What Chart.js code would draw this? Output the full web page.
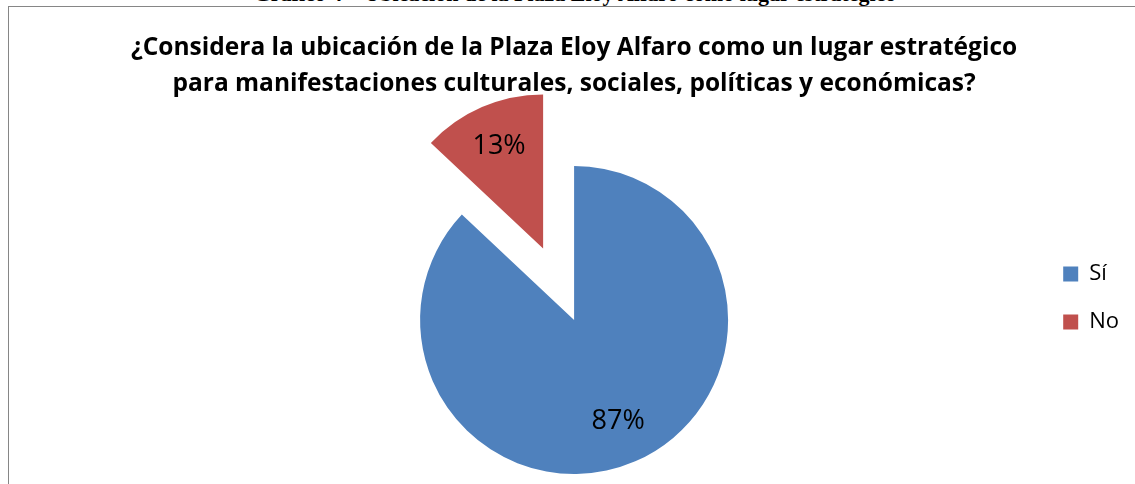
<!DOCTYPE html>
<html lang="es">
<head>
    <meta charset="UTF-8">
    <title>Plaza Eloy Alfaro</title>
    <script src="https://cdn.jsdelivr.net/npm/chart.js"></script>
    <style>
        body { margin: 0; width: 1135px; height: 484px; overflow: hidden; background: #fff; position: relative; }
        #caption {
            position: absolute; left: 0; width: 1150px; top: -17px;
            text-align: center; font: bold 22px/22px "Liberation Serif", serif; color: #000;
        }
        #frame {
            position: absolute; left: 8px; top: 6px; width: 1200px; height: 600px;
            border: 1px solid #868686;
        }
        #chartBox { position: absolute; left: 0; top: 0; width: 1126px; height: 521px; }
    </style>
</head>
<body>
    <div id="caption">Gráfico 4 – Ubicación de la Plaza Eloy Alfaro como lugar estratégico</div>
    <div id="frame">
        <div id="chartBox"><canvas id="pieChart"></canvas></div>
    </div>
    <script>
        // data
        const categories = ['Sí', 'No'];
        const percentages = [87, 13];
        const sliceColors = ['#4F81BD', '#C0504D'];
        const titleLines = [
            '¿Considera la ubicación de la Plaza Eloy Alfaro como un lugar estratégico',
            'para manifestaciones culturales, sociales, políticas y económicas?'
        ];

        // how far each slice is pulled out of the pie (px)
        const explode = [0, 78];

        // pull slices out along their middle angle, keeping their radius
        const explodePlugin = {
            id: 'explode',
            afterDatasetUpdate(chart, args) {
                args.meta.data.forEach((arc, i) => {
                    const d = explode[i];
                    if (!d) return;
                    const mid = (arc.startAngle + arc.endAngle) / 2;
                    arc.x += Math.cos(mid) * d;
                    arc.y += Math.sin(mid) * d;
                });
            }
        };

        // percentage labels inside each slice
        const pctLabels = {
            id: 'pctLabels',
            afterDatasetsDraw(chart) {
                const ctx = chart.ctx;
                const meta = chart.getDatasetMeta(0);
                ctx.save();
                ctx.font = '27px "Open Sans"';
                ctx.fillStyle = '#000';
                ctx.textAlign = 'center';
                ctx.textBaseline = 'middle';
                meta.data.forEach((arc, i) => {
                    const mid = (arc.startAngle + arc.endAngle) / 2;
                    const r = arc.outerRadius * 0.72;
                    ctx.fillText(percentages[i] + '%', arc.x + Math.cos(mid) * r, arc.y + Math.sin(mid) * r);
                });
                ctx.restore();
            }
        };

        new Chart(document.getElementById('pieChart'), {
            type: 'pie',
            data: {
                labels: categories,
                datasets: [{
                    data: percentages,
                    backgroundColor: sliceColors,
                    borderWidth: 0,
                    radius: 154
                }]
            },
            options: {
                responsive: true,
                maintainAspectRatio: false,
                animation: false,
                events: [],
                layout: { padding: { left: 102, right: 6, top: 0, bottom: 0 } },
                plugins: {
                    title: {
                        display: true,
                        text: titleLines,
                        fullSize: false,
                        color: '#000',
                        font: { family: '"Open Sans"', size: 24.5, weight: 'bold', lineHeight: 36 / 24.5 },
                        padding: { top: 23, bottom: 10 }
                    },
                    legend: {
                        position: 'right',
                        align: 'start',
                        title: { display: true, text: '', font: { size: 12, lineHeight: 1 }, padding: { top: 218, bottom: 0 } },
                        labels: {
                            color: '#000',
                            boxWidth: 15,
                            boxHeight: 15,
                            padding: 26,
                            font: { family: '"Open Sans"', size: 22 }
                        }
                    },
                    tooltip: { enabled: false }
                }
            },
            plugins: [explodePlugin, pctLabels]
        });
    </script>
</body>
</html>
